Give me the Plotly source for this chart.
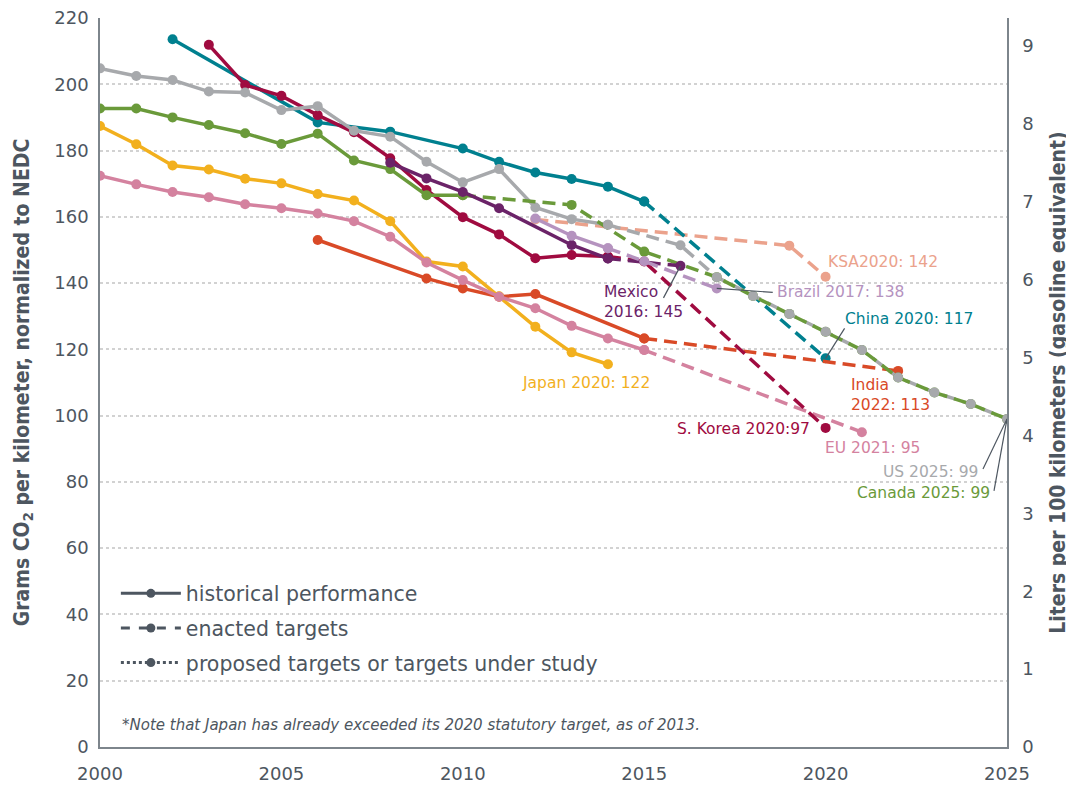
import plotly.graph_objects as go

# ---------------- data ----------------
us_hist_years = list(range(2000, 2015))
us_hist_vals = [204.8, 202.5, 201.3, 197.8, 197.5, 192.2, 193.4, 186.0, 184.2, 176.6, 170.4, 174.4, 162.8, 159.3, 157.6]
us_tgt_years = [2014, 2016, 2017, 2018, 2019, 2020, 2021, 2022, 2023, 2024, 2025]
us_tgt_vals = [157.6, 151.4, 141.8, 136.1, 130.7, 125.3, 119.8, 111.5, 107.0, 103.5, 99.0]

ca_hist_years = list(range(2000, 2011))
ca_hist_vals = [192.7, 192.7, 190.0, 187.7, 185.2, 182.0, 185.1, 177.0, 174.4, 166.5, 166.5]
ca_tgt_years = [2010, 2013, 2015, 2017, 2018, 2019, 2020, 2021, 2022, 2023, 2024, 2025]
ca_tgt_vals = [166.5, 163.6, 149.5, 141.8, 136.1, 130.7, 125.3, 119.8, 111.5, 107.0, 103.5, 99.0]

jp_hist_years = list(range(2000, 2015))
jp_hist_vals = [187.4, 181.9, 175.5, 174.3, 171.5, 170.1, 166.9, 164.9, 158.7, 146.5, 145.0, 136.0, 126.8, 119.1, 115.5]

eu_hist_years = list(range(2000, 2016))
eu_hist_vals = [172.4, 169.8, 167.5, 165.9, 163.8, 162.6, 161.0, 158.7, 154.0, 146.2, 140.9, 135.9, 132.4, 127.1, 123.3, 119.8]
eu_tgt_years = [2015, 2021]
eu_tgt_vals = [119.8, 95.0]

in_hist_years = [2006, 2009, 2010, 2011, 2012, 2015]
in_hist_vals = [153.0, 141.4, 138.4, 135.9, 136.7, 123.3]
in_tgt_years = [2015, 2022]
in_tgt_vals = [123.3, 113.5]

cn_hist_years = [2002, 2006, 2008, 2010, 2011, 2012, 2013, 2014, 2015]
cn_hist_vals = [213.6, 188.5, 185.7, 180.6, 176.6, 173.4, 171.4, 169.1, 164.6]
cn_tgt_years = [2015, 2020]
cn_tgt_vals = [164.6, 117.3]

kr_hist_years = list(range(2003, 2015))
kr_hist_vals = [211.9, 199.8, 196.5, 190.7, 185.5, 177.7, 168.1, 159.9, 154.7, 147.5, 148.5, 148.0]
kr_tgt_years = [2014, 2015, 2020]
kr_tgt_vals = [148.0, 146.5, 96.3]

mx_hist_years = [2008, 2009, 2010, 2011, 2013, 2014]
mx_hist_vals = [176.3, 171.6, 167.5, 162.6, 151.5, 147.4]
mx_tgt_years = [2014, 2016]
mx_tgt_vals = [147.4, 145.2]

br_hist_years = [2012, 2013, 2014]
br_hist_vals = [159.5, 154.3, 150.5]
br_tgt_years = [2014, 2015, 2017]
br_tgt_vals = [150.5, 146.6, 138.4]

ksa_tgt_years = [2012, 2019, 2020]
ksa_tgt_vals = [159.2, 151.3, 141.9]

x_ticks = [2000, 2005, 2010, 2015, 2020, 2025]
y_ticks = list(range(0, 221, 20))
l_ticks = list(range(0, 10))
G_PER_L = 23.5

# ---------------- styles ----------------
C_US = "#A7A9AC"
C_CA = "#6A9A3A"
C_JP = "#F2B01E"
C_EU = "#D4829F"
C_IN = "#D94A27"
C_CN = "#00808F"
C_KR = "#A00B40"
C_MX = "#6B2368"
C_BR = "#B593BF"
C_KSA = "#EBA28C"
TXT = "#4D5660"
AXC = "#7D858C"
DASH = "13px,7px"
LW = 3.5
MS = 10
FONT = "DejaVu Sans"

fig = go.Figure()


def add(xs, ys, color, dash="solid", mode="lines+markers"):
    fig.add_trace(go.Scatter(
        x=xs, y=ys, mode=mode, showlegend=False, hoverinfo="skip",
        line=dict(color=color, width=LW, dash=dash),
        marker=dict(color=color, size=MS),
    ))


add(ksa_tgt_years, ksa_tgt_vals, C_KSA, DASH)
add(cn_hist_years, cn_hist_vals, C_CN)
add(cn_tgt_years, cn_tgt_vals, C_CN, DASH)
add(in_hist_years, in_hist_vals, C_IN)
add(in_tgt_years, in_tgt_vals, C_IN, DASH)
add(jp_hist_years, jp_hist_vals, C_JP)
add(eu_hist_years, eu_hist_vals, C_EU)
add(eu_tgt_years, eu_tgt_vals, C_EU, DASH)
add(kr_hist_years, kr_hist_vals, C_KR)
add(kr_tgt_years, kr_tgt_vals, C_KR, DASH)
add(ca_hist_years, ca_hist_vals, C_CA)
add(us_hist_years, us_hist_vals, C_US)
add(us_tgt_years, us_tgt_vals, C_US, DASH, mode="lines")
add(ca_tgt_years, ca_tgt_vals, C_CA, DASH)
add(us_tgt_years, us_tgt_vals, C_US, DASH, mode="markers")
add(mx_hist_years, mx_hist_vals, C_MX)
add(mx_tgt_years, mx_tgt_vals, C_MX, DASH)
add(br_hist_years, br_hist_vals, C_BR)
add(br_tgt_years, br_tgt_vals, C_BR, DASH)

# legend entries
for name, dash in [("historical performance", "solid"),
                   ("enacted targets", "dash"),
                   ("proposed targets or targets under study", "dot")]:
    fig.add_trace(go.Scatter(
        x=[None], y=[None], mode="lines+markers", name=name, legendgroup=name,
        line=dict(color=TXT, width=3, dash=dash), marker=dict(color=TXT, size=9),
    ))

# dummy trace for right axis
fig.add_trace(go.Scatter(x=[None], y=[None], yaxis="y2", showlegend=False, hoverinfo="skip"))

# ---------------- labels ----------------
labels = [
    ("KSA2020: 142", 2020.01, 146.4, "left", C_KSA),
    ("Brazil 2017: 138", 2018.6, 137.3, "left", C_BR),
    ("China 2020: 117", 2020.48, 129.2, "left", C_CN),
    ("Mexico<br>2016: 145", 2013.84, 134.4, "left", C_MX),
    ("India<br>2022: 113", 2020.64, 106.2, "left", C_IN),
    ("S. Korea 2020:97", 2019.63, 96.0, "right", C_KR),
    ("EU 2021: 95", 2019.93, 90.2, "left", C_EU),
    ("US 2025: 99", 2024.26, 83.0, "right", C_US),
    ("Canada 2025: 99", 2024.59, 76.7, "right", C_CA),
    ("Japan 2020: 122", 2011.58, 109.9, "left", C_JP),
]
for text, x, y, anchor, color in labels:
    fig.add_annotation(x=x, y=y, text=text, showarrow=False, xanchor=anchor, yanchor="middle",
                       align=anchor, font=dict(family=FONT, size=15.5, color=color))

# leader lines: (data point x, y, pixel offset dx, dy downwards)
leaders = [
    (br_tgt_years[-1], br_tgt_vals[-1], 56, 4),
    (cn_tgt_years[-1], cn_tgt_vals[-1], 19, -30),
    (mx_tgt_years[-1], mx_tgt_vals[-1], -17, 32),
    (us_tgt_years[-1], us_tgt_vals[-1], -24, 50),
    (ca_tgt_years[-1], ca_tgt_vals[-1], -13, 72),
]
for x, y, dx, dy in leaders:
    fig.add_shape(type="line", xref="x", yref="y",
                  xsizemode="pixel", xanchor=x, x0=0, x1=dx,
                  ysizemode="pixel", yanchor=y, y0=0, y1=-dy,
                  line=dict(color=TXT, width=1.2), layer="above")

fig.add_annotation(xref="paper", yref="paper", x=0.022, y=0.030, xanchor="left", yanchor="middle",
                   text="<i>*Note that Japan has already exceeded its 2020 statutory target, as of 2013.</i>",
                   showarrow=False, font=dict(family=FONT, size=15, color=TXT))

# The page body has an 8px default margin, so the figure is sized to the visible area.
fig.update_layout(
    width=1066, height=779,
    margin=dict(l=92, r=67, t=10, b=40),
    paper_bgcolor="white", plot_bgcolor="white",
    font=dict(family=FONT, color=TXT),
    showlegend=True,
    legend=dict(x=0.0175, y=0.238, xanchor="left", yanchor="top", bgcolor="rgba(0,0,0,0)",
                font=dict(family=FONT, size=20.5, color=TXT), tracegroupgap=5, itemwidth=60),
    xaxis=dict(range=[2000, 2025], tickvals=x_ticks, showgrid=False, zeroline=False,
               showline=True, linecolor=AXC, linewidth=1.5, ticks="", automargin=False,
               ticklabeloverflow="allow",
               tickfont=dict(family=FONT, size=18, color=TXT), ticklabelstandoff=10),
    yaxis=dict(range=[0, 220], tickvals=y_ticks, showgrid=True, gridcolor="#D2D2D2",
               griddash="dot", gridwidth=1.5, zeroline=False, automargin=False,
               showline=True, linecolor=AXC, linewidth=1.5, ticks="", ticklabeloverflow="allow",
               tickfont=dict(family=FONT, size=18, color=TXT), ticklabelstandoff=6,
               title=dict(text="Grams CO<sub>2</sub> per kilometer, normalized to NEDC",
                          font=dict(family="DejaVu Sans Condensed", size=21, color=TXT, weight="bold"),
                          standoff=19)),
    yaxis2=dict(range=[0, 220 / G_PER_L], tickvals=l_ticks, overlaying="y", side="right",
                showgrid=False, zeroline=False, showline=True, linecolor=AXC, linewidth=1.5,
                ticks="", automargin=False, ticklabeloverflow="allow",
                tickfont=dict(family=FONT, size=18, color=TXT), ticklabelstandoff=10,
                title=dict(text="Liters per 100 kilometers (gasoline equivalent)",
                           font=dict(family="DejaVu Sans Condensed", size=21, color=TXT, weight="bold"),
                           standoff=17)),
)

fig.write_html("out.html")
